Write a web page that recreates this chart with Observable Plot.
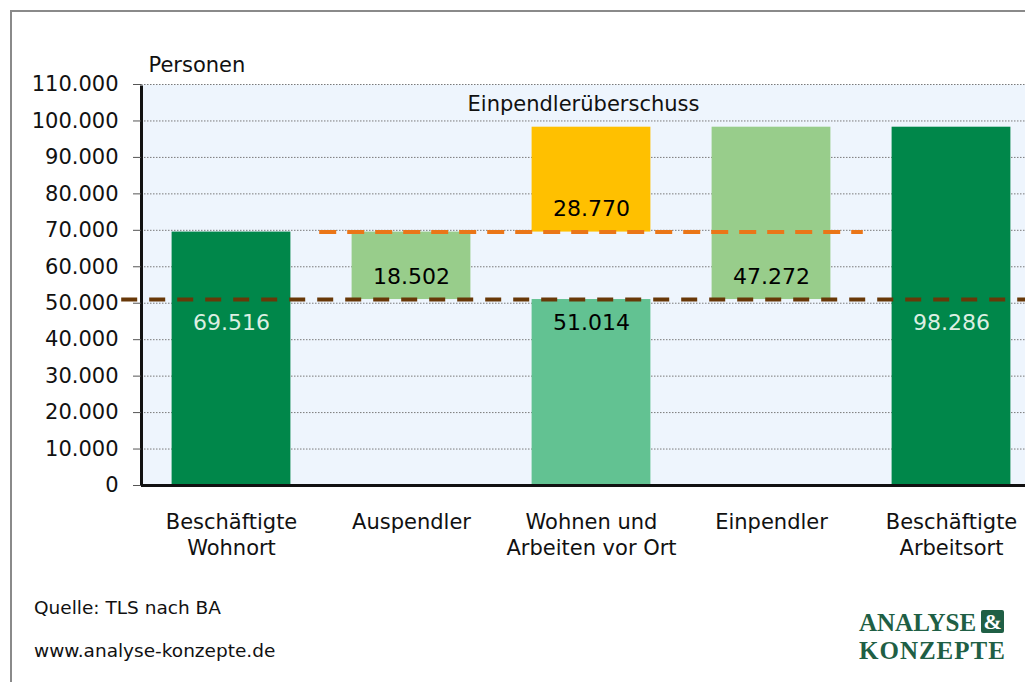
<!DOCTYPE html>
<html><head><meta charset="utf-8">
<script src="https://cdn.jsdelivr.net/npm/d3@7"></script>
<script src="https://cdn.jsdelivr.net/npm/@observablehq/plot@0.6"></script>
<style>
html,body{margin:0;padding:0;overflow:hidden;background:#fff;width:1025px;height:682px;}
#frame{position:absolute;left:10px;top:10px;width:1100px;height:800px;border:2px solid #8a8a8a;box-sizing:border-box;}
#chart{position:absolute;left:0;top:0;width:1060px;}
#chart svg{max-width:none !important;}
.note{position:absolute;left:34px;font-family:"DejaVu Sans";font-size:18.5px;color:#111;line-height:22px;}
.logo{position:absolute;left:859px;font-family:"Liberation Serif";font-weight:bold;color:#1f5f45;font-size:25px;line-height:25px;white-space:nowrap;}
.amp{display:inline-block;background:#1f5f45;color:#fff;width:23px;height:23px;text-align:center;line-height:24px;border-radius:2px;margin-left:5px;vertical-align:top;font-size:22px;}
</style></head><body>
<div id="frame"></div>
<div id="chart"></div>
<div class="note" style="top:597px">Quelle: TLS nach BA</div>
<div class="note" style="top:640px">www.analyse-konzepte.de</div>
<div class="logo" style="top:610px;letter-spacing:0px">ANALYSE<span class="amp">&amp;</span></div>
<div class="logo" style="top:638px;letter-spacing:1px">KONZEPTE</div>
<script>
const categories = ["Beschäftigte\nWohnort", "Auspendler", "Wohnen und\nArbeiten vor Ort", "Einpendler", "Beschäftigte\nArbeitsort"];
const values = [69516, 18502, 51014, 47272, 98286];
const surplus = [28770];
const surplusLabel = ["Einpendlerüberschuss"];
const yTicks = [0, 10000, 20000, 30000, 40000, 50000, 60000, 70000, 80000, 90000, 100000, 110000];
const yLabel = ["Personen"];

const fmt = d3.formatLocale({decimal: ",", thousands: ".", grouping: [3], currency: ["", "€"]}).format(",.0f");

const darkGreen = "#00874a", lightGreen = "#98cd8b", midGreen = "#62c292", yellow = "#ffc000";
const hw = 0.33;

const segs = [
  {i: 0, lo: 0, hi: values[0], label: values[0], fill: darkGreen, text: "#dcefe2", kind: "ground"},
  {i: 1, lo: values[0] - values[1], hi: values[0], label: values[1], fill: lightGreen, text: "#000", kind: "float"},
  {i: 2, lo: 0, hi: values[2], label: values[2], fill: midGreen, text: "#000", kind: "ground"},
  {i: 2, lo: values[0], hi: values[0] + surplus[0], label: surplus[0], fill: yellow, text: "#000", kind: "float"},
  {i: 3, lo: values[2], hi: values[2] + values[3], label: values[3], fill: lightGreen, text: "#000", kind: "float"},
  {i: 4, lo: 0, hi: values[4], label: values[4], fill: darkGreen, text: "#dcefe2", kind: "ground"}
];

const chart = Plot.plot({
  width: 1060, height: 600,
  marginLeft: 141, marginRight: 19, marginTop: 84, marginBottom: 115,
  style: {fontFamily: "DejaVu Sans", color: "#111", background: "transparent", overflow: "visible", maxWidth: "none"},
  x: {domain: [-0.5, 4.5], axis: null},
  y: {domain: [0, 110000], axis: null},
  color: {type: "identity"},
  marks: [
    Plot.frame({fill: "#eef5fd", stroke: null}),
    Plot.gridY(yTicks, {stroke: "#7a7a7a", strokeOpacity: 1, strokeDasharray: "1.5,1.5"}),
    Plot.rectY(segs, {x1: d => d.i - hw, x2: d => d.i + hw, y1: "lo", y2: "hi", fill: "fill"}),
    Plot.ruleY([values[2]], {x1: -0.61, x2: 4.8, stroke: "#683808", strokeWidth: 4, strokeDasharray: "16,12"}),
    Plot.ruleY([values[0]], {x1: 0.49, x2: 3.51, stroke: "#ea7618", strokeWidth: 4, strokeDasharray: "17,11"}),
    Plot.ruleY([0], {stroke: "#111", strokeWidth: 3}),
    Plot.ruleX([-0.5], {y1: 0, y2: 110000, stroke: "#111", strokeWidth: 3, insetBottom: -1.5}),
    Plot.axisY(yTicks, {tickSize: 8, tickPadding: 15, tickFormat: fmt, fontSize: 21, stroke: "#555", fill: "#111", label: null}),
    Plot.axisX([0, 1, 2, 3, 4], {tickSize: 0, tickPadding: 25, tickFormat: i => categories[i], fontSize: 21, lineHeight: 1.25, fill: "#111", label: null}),
    Plot.text(segs.filter(d => d.kind === "float"), {x: "i", y: "lo", text: d => fmt(d.label), dy: -23, fill: "text", fontSize: 22}),
    Plot.text(segs.filter(d => d.kind === "ground"), {x: "i", y: d => Math.min(d.hi, values[2]), text: d => fmt(d.label), dy: 23, fill: "text", fontSize: 22}),
    Plot.text(surplusLabel, {x: 2, y: values[0] + surplus[0], dy: -23, dx: -8, fontSize: 21, fill: "#111"}),
    Plot.text(yLabel, {frameAnchor: "top-left", textAnchor: "start", dx: 7, dy: -13, lineAnchor: "bottom", fontSize: 21, fill: "#111"})
  ]
});
document.getElementById("chart").appendChild(chart);
</script>
</body></html>
